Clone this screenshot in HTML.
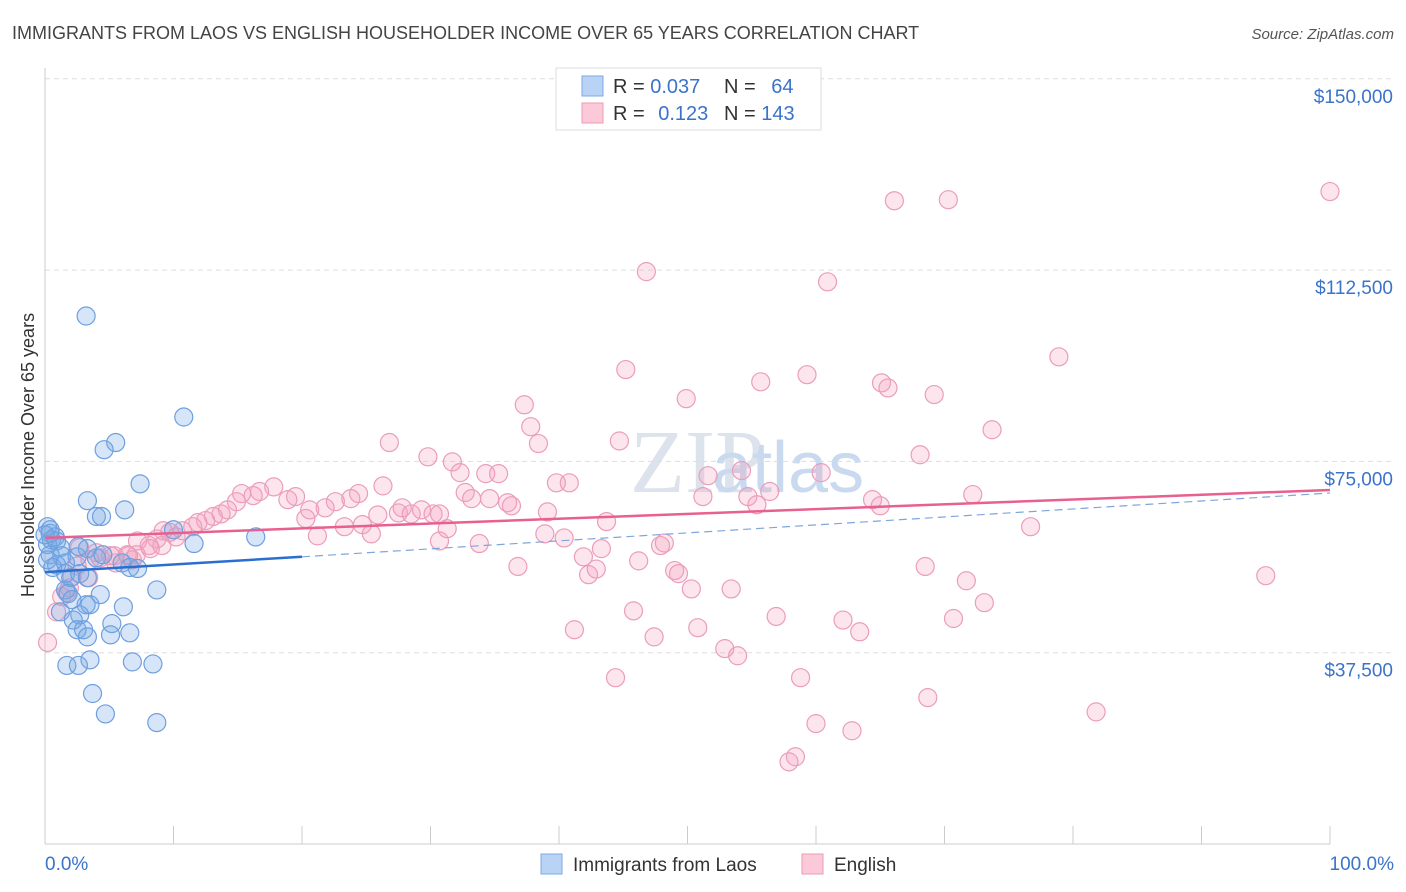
<!DOCTYPE html>
<html><head><meta charset="utf-8"><style>
body{margin:0;background:#fff;font-family:"Liberation Sans",sans-serif;}
svg{display:block}
</style></head><body>
<svg id="chart" width="1406" height="892">
<text x="12" y="39" font-size="18" fill="#444">IMMIGRANTS FROM LAOS VS ENGLISH HOUSEHOLDER INCOME OVER 65 YEARS CORRELATION CHART</text>
<text x="1394" y="39" font-size="15" fill="#555" font-style="italic" text-anchor="end">Source: ZipAtlas.com</text>
<text x="630" y="492" font-size="90" fill="#dde3ec" font-family="Liberation Serif,serif">ZIP</text>
<text x="712" y="492" font-size="72" fill="#c9d9ef">atlas</text>
<text transform="translate(34,455) rotate(-90)" font-size="18" fill="#333" text-anchor="middle">Householder Income Over 65 years</text>
<g id="grid"></g>
<g id="marks"></g>
<g>
<rect x="556" y="68" width="265" height="62" fill="#fff" stroke="#ddd"/>
<rect x="582" y="76" width="21" height="20" fill="#b9d3f5" stroke="#7eaae6"/>
<rect x="582" y="103" width="21" height="20" fill="#fbc9d8" stroke="#ee9ab8"/>
<text x="613" y="93" font-size="20" fill="#333">R = <tspan fill="#3b73c9">0.037</tspan></text>
<text x="724" y="93" font-size="20" fill="#333">N = <tspan fill="#3b73c9" dx="10">64</tspan></text>
<text x="613" y="120" font-size="20" fill="#333">R = <tspan fill="#3b73c9" dx="8">0.123</tspan></text>
<text x="724" y="120" font-size="20" fill="#333">N = <tspan fill="#3b73c9">143</tspan></text>
</g>
<g>
<rect x="541" y="854" width="21" height="20" fill="#b9d3f5" stroke="#7eaae6"/>
<text x="573" y="871" font-size="19" fill="#333">Immigrants from Laos</text>
<rect x="802" y="854" width="21" height="20" fill="#fbc9d8" stroke="#ee9ab8"/>
<text x="834" y="871" font-size="19" fill="#333">English</text>
</g>
</svg>
<script>
const yTicks=[37500,75000,112500,150000];
const yTickLabels=["$37,500","$75,000","$112,500","$150,000"];
const xTickLabels=["0.0%","100.0%"];
const laosX=[0.2,0.4,0.5,0.8,0.2,0.9,1.2,0.4,1.3,0.9,0.6,1.6,2.6,2.5,3.3,4.0,4.5,1.6,2.0,2.7,3.3,1.6,1.8,2.1,3.2,3.5,4.3,6.1,2.7,2.2,2.5,3.0,5.2,5.1,6.6,3.3,3.5,1.7,2.6,6.8,8.4,3.7,4.7,8.7,3.2,10.8,5.5,4.6,7.4,3.3,4.0,4.4,6.2,11.6,10.0,16.4,8.7,6.0,6.6,7.2,1.2,0.4,0,0.2];
const laosY=[62.2,60.9,59.6,60.2,58.7,59.4,58.1,56.7,56.5,54.7,54.2,55.1,58.3,56.3,57.9,56.1,56.7,53.0,52.2,53.0,52.2,49.8,49.1,47.9,46.9,46.9,48.9,46.5,44.9,43.9,42.0,42.0,43.2,41.0,41.4,40.6,36.1,35.0,35.0,35.7,35.3,29.5,25.5,23.8,103.5,83.7,78.7,77.3,70.6,67.3,64.2,64.2,65.5,58.9,61.6,60.2,49.8,55.1,54.2,54.0,45.5,61.6,60.6,55.7];
const engX=[100,66.1,70.3,46.8,60.9,78.9,45.2,55.7,59.3,65.1,65.6,69.2,49.9,37.3,37.8,73.7,26.8,38.4,44.7,68.1,29.8,31.7,32.3,34.3,35.3,54.2,51.6,60.4,39.8,40.8,26.3,32.7,33.2,34.6,36.0,36.3,51.2,54.7,56.4,55.4,64.4,65.0,72.2,24.4,23.8,22.6,21.8,20.6,19.5,18.9,17.8,16.7,16.2,15.3,14.9,14.2,13.7,13.1,12.5,11.9,11.5,10.7,10.2,9.2,8.7,8.1,7.2,6.4,5.4,4.3,4.0,3.5,2.5,2.1,3.4,1.7,0.9,0.2,20.3,21.2,23.3,24.7,25.4,25.9,27.5,27.8,28.5,29.3,30.2,31.3,30.7,33.8,36.8,39.1,38.9,40.4,41.9,42.3,42.9,43.3,43.7,46.2,47.9,48.2,49.0,49.3,50.3,53.4,41.2,45.8,47.4,50.8,52.9,53.9,44.4,56.9,62.1,63.4,58.8,60.0,62.8,58.4,57.9,68.5,70.7,71.7,73.1,68.7,76.7,81.8,95.0,8.2,9.1,9.7,5.5,7.1,6.8,2.7,1.3,1.9,5.1,6.5,30.7];
const engY=[127.9,126.1,126.3,112.2,110.2,95.5,93.0,90.6,92.0,90.4,89.4,88.1,87.3,86.1,81.8,81.2,78.7,78.5,79.0,76.3,75.9,74.9,72.8,72.6,72.6,73.2,72.2,72.8,70.8,70.8,70.2,68.9,67.7,67.7,66.9,66.3,68.1,68.1,69.1,66.5,67.5,66.3,68.5,68.7,67.7,67.1,65.9,65.5,68.1,67.5,70.0,69.1,68.3,68.7,67.1,65.5,64.7,64.2,63.4,63.0,62.2,61.4,60.2,61.4,59.8,58.5,59.4,56.7,56.5,56.1,57.1,55.7,54.5,52.4,52.2,49.3,45.5,39.5,63.8,60.4,62.2,62.6,60.8,64.5,64.9,65.9,64.7,65.5,64.7,61.8,59.4,58.9,54.4,65.1,60.8,60.0,56.3,52.8,53.9,57.9,63.2,55.5,58.5,59.0,53.6,53.0,50.0,50.0,42.0,45.7,40.6,42.4,38.3,36.9,32.6,44.6,43.9,41.6,32.6,23.6,22.2,17.1,16.1,54.4,44.2,51.6,47.3,28.7,62.2,25.9,52.6,57.9,58.5,61.1,55.1,56.7,55.7,58.1,48.5,50.2,56.5,56.5,64.7];
const laosTrend=[[0,53.3],[20,56.3],[100,68.8]];
const engTrend=[[0,60.0],[100,69.4]];
const NS="http://www.w3.org/2000/svg";
const X=p=>45+p*12.85;
const Y=v=>844-v*1000/37500*191.3;
function mk(t,a,parent){const e=document.createElementNS(NS,t);for(const k in a)e.setAttribute(k,a[k]);parent.appendChild(e);return e;}
const grid=document.getElementById('grid'),marks=document.getElementById('marks');
yTicks.forEach((t,i)=>{
 const l=mk('line',{x1:45,x2:1394,y1:Y(t/1000),y2:Y(t/1000),stroke:'#ddd','stroke-dasharray':'5,4'},grid);
 
 
 const tx=mk('text',{x:1393,y:Y(t/1000)+24,'font-size':19,fill:'#3b73c9','text-anchor':'end'},grid);
 tx.textContent=yTickLabels[i];
 
 
});
const ax=mk('line',{x1:45,x2:1330,y1:844,y2:844,stroke:'#ccc'},grid);


const ay=mk('line',{x1:45,x2:45,y1:68,y2:844,stroke:'#ccc'},grid);


for(let i=0;i<=10;i++){const t=mk('line',{x1:X(i*10),x2:X(i*10),y1:826,y2:844,stroke:'#ccc'},grid);
 
 }
[[0,'start',45],[100,'end',1394]].forEach((d,i)=>{const t=mk('text',{x:d[2],y:870,'font-size':19,fill:'#3b73c9','text-anchor':d[1]},grid);t.textContent=xTickLabels[i];
 
 });
engX.forEach((x,i)=>{const c=mk('circle',{cx:X(x),cy:Y(engY[i]),r:9,fill:'rgba(245,160,190,0.28)',stroke:'#eb9dbb','stroke-width':1.2},marks);
 
 });
laosX.forEach((x,i)=>{const c=mk('circle',{cx:X(x),cy:Y(laosY[i]),r:9,fill:'rgba(120,170,230,0.3)',stroke:'#6e9fdf','stroke-width':1.2},marks);
 
 });
const ld=mk('line',{x1:X(laosTrend[1][0]),y1:Y(laosTrend[1][1]),x2:X(laosTrend[2][0]),y2:Y(laosTrend[2][1]),stroke:'#7ea6dc','stroke-width':1.2,'stroke-dasharray':'8,5'},marks);


const ls=mk('line',{x1:X(laosTrend[0][0]),y1:Y(laosTrend[0][1]),x2:X(laosTrend[1][0]),y2:Y(laosTrend[1][1]),stroke:'#2a6fd0','stroke-width':2.5},marks);


const es=mk('line',{x1:X(engTrend[0][0]),y1:Y(engTrend[0][1]),x2:X(engTrend[1][0]),y2:Y(engTrend[1][1]),stroke:'#e8608f','stroke-width':2.5},marks);


</script>
</body></html>
